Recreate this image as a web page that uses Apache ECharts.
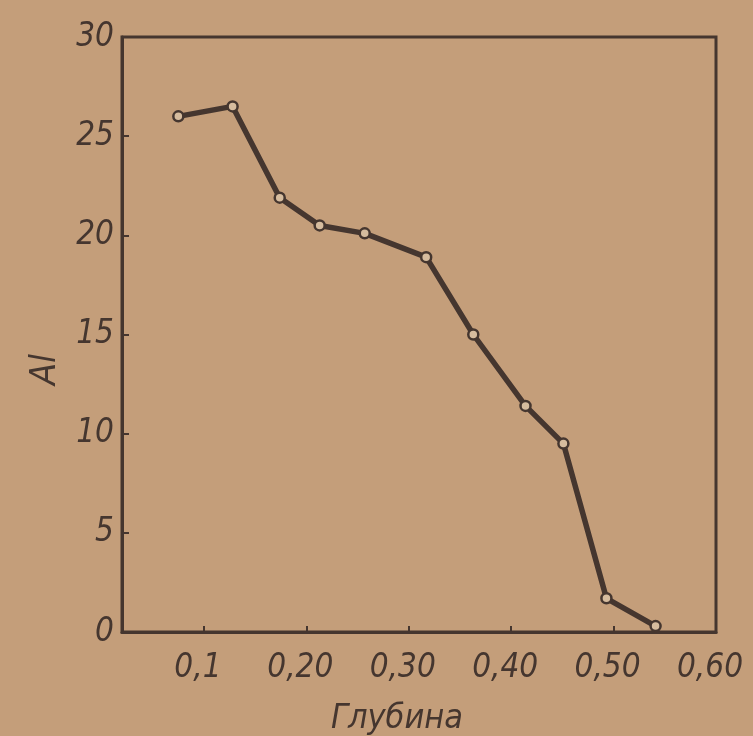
<!DOCTYPE html>
<html>
<head>
<meta charset="utf-8">
<script src="https://cdn.jsdelivr.net/npm/echarts@6/dist/echarts.min.js"></script>
<style>
html,body{margin:0;padding:0;background:#c49e7a;}
#chart{width:753px;height:736px;}
</style>
</head>
<body>
<div id="chart"></div>
<script>
// Depth (Глубина) values
const depth = [0.075, 0.128, 0.174, 0.213, 0.257, 0.317, 0.363, 0.414, 0.451, 0.493, 0.541];
// Al values
const alValues = [26.0, 26.5, 21.9, 20.5, 20.1, 18.9, 15.0, 11.4, 9.5, 1.7, 0.3];
// Tick values / labels
const xTickValues = [0.1, 0.2, 0.3, 0.4, 0.5, 0.6];
const xTickLabels = ['0,1', '0,20', '0,30', '0,40', '0,50', '0,60'];
const yTickValues = [0, 5, 10, 15, 20, 25, 30];

const ink = '#45362f';
const font = '"Liberation Sans Narrow", "DejaVu Sans Condensed", "DejaVu Sans", sans-serif';

const chart = echarts.init(document.getElementById('chart'), null, {renderer: 'canvas'});
chart.setOption({
  backgroundColor: '#c49e7a',
  animation: false,
  grid: {
    left: 122, right: 37, top: 37, bottom: 104,
    outerBoundsMode: 'none',
    containLabel: false,
    show: true, borderColor: ink, borderWidth: 3, backgroundColor: 'transparent'
  },
  xAxis: {
    type: 'value',
    min: 0.02, max: 0.6,
    name: 'Глубина',
    nameLocation: 'middle',
    nameGap: 70,
    nameTextStyle: {color: ink, fontSize: 34, fontStyle: 'italic', fontFamily: font, padding: [0, 44, 0, 0]},
    axisLine: {show: true, lineStyle: {color: ink, width: 3}},
    axisTick: {show: true, inside: true, length: 6, lineStyle: {color: ink, width: 2},
               customValues: xTickValues},
    axisLabel: {
      customValues: xTickValues,
      formatter: v => { const i = xTickValues.findIndex(t => Math.abs(t - v) < 1e-6); return i >= 0 ? xTickLabels[i] : ''; },
      color: ink, fontSize: 33, fontStyle: 'italic', fontFamily: font, margin: 20,
      padding: [0, 12, 0, 0]
    },
    splitLine: {show: false}
  },
  yAxis: {
    type: 'value',
    min: 0, max: 30, interval: 5,
    name: 'Al',
    nameLocation: 'middle',
    nameGap: 58,
    nameRotate: 90,
    nameTextStyle: {color: ink, fontSize: 36, fontStyle: 'italic', fontFamily: font, padding: [0, 70, 0, 0]},
    axisLine: {show: true, lineStyle: {color: ink, width: 3}},
    axisTick: {show: true, inside: true, length: 7, lineStyle: {color: ink, width: 2},
               customValues: yTickValues},
    axisLabel: {
      customValues: yTickValues,
      color: ink, fontSize: 33, fontStyle: 'italic', fontFamily: font, margin: 8
    },
    splitLine: {show: false}
  },
  series: [{
    type: 'line',
    data: depth.map((d, i) => [d, alValues[i]]),
    symbol: 'circle',
    symbolSize: 10,
    showAllSymbol: true,
    lineStyle: {color: ink, width: 5.5},
    itemStyle: {color: '#d6bc9e', borderColor: ink, borderWidth: 2.5},
    z: 3
  }]
});
</script>
</body>
</html>
